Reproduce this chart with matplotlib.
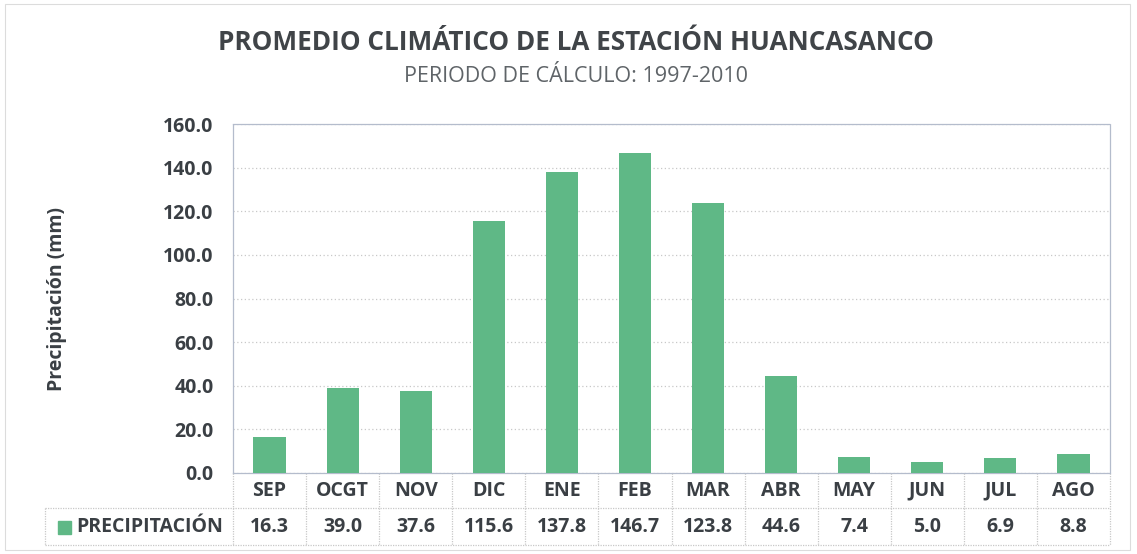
import numpy as np
import matplotlib.pyplot as plt
from matplotlib.patches import Rectangle
from matplotlib.lines import Line2D

months = ['SEP', 'OCGT', 'NOV', 'DIC', 'ENE', 'FEB', 'MAR', 'ABR', 'MAY', 'JUN', 'JUL', 'AGO']
precip = [16.3, 39.0, 37.6, 115.6, 137.8, 146.7, 123.8, 44.6, 7.4, 5.0, 6.9, 8.8]
yticks = [0, 20, 40, 60, 80, 100, 120, 140, 160]
series_name = 'PRECIPITACIÓN'

GREEN = '#5fb886'
DARK = '#3a3f44'
GRID = '#c8c8c8'
plt.rcParams['font.family'] = ['Open Sans', 'DejaVu Sans']

fig = plt.figure(figsize=(11.37, 5.54), dpi=100)
ax = fig.add_axes([233 / 1137, 1 - 473 / 554, (1110 - 233) / 1137, 349 / 554])

x = np.arange(len(months))
ax.bar(x, precip, width=0.44, color=GREEN, zorder=3)
ax.set_xlim(-0.5, len(months) - 0.5)
ax.set_ylim(0, 160)
ax.set_yticks(yticks)
ax.set_yticklabels([f'{v:.1f}' for v in yticks], fontsize=14, fontweight='bold', color=DARK)
ax.tick_params(axis='y', length=0, pad=14)
ax.set_xticks([])
ax.grid(axis='y', color=GRID, linestyle=(0, (1, 2)), linewidth=0.9, zorder=0)
for s in ax.spines.values():
    s.set_color('#b4bccc')
    s.set_linestyle((0, (1, 1)))
    s.set_linewidth(0.9)
ax.set_ylabel('Precipitación (mm)', fontsize=14, fontweight='bold', color=DARK, labelpad=69)

# data table under the axes
tr = ax.get_xaxis_transform()
h1 = -35 / 349
h2 = -72 / 349
lc = '#c8c8c8'
lw = 0.9
ls = (0, (1, 1))
left_ax = (45 - 233) / 877 * len(months) - 0.5
for yy in (h1, h2):
    ax.add_line(Line2D([left_ax, len(months) - 0.5], [yy, yy],
                       transform=tr, color=lc, lw=lw, ls=ls, clip_on=False))
ax.add_line(Line2D([left_ax, left_ax], [h1, h2], transform=tr, color=lc, lw=lw, ls=ls, clip_on=False))
for i in range(len(months) + 1):
    ax.add_line(Line2D([i - 0.5, i - 0.5], [0, h2], transform=tr, color=lc, lw=lw, ls=ls, clip_on=False))

for i, (m, v) in enumerate(zip(months, precip)):
    ax.text(i, h1 / 2, m, transform=tr, ha='center', va='center',
            fontsize=14, fontweight='bold', color=DARK, clip_on=False)
    ax.text(i, (h1 + h2) / 2, f'{v:.1f}', transform=tr, ha='center', va='center',
            fontsize=14, fontweight='bold', color=DARK, clip_on=False)

fig.patches.append(Rectangle((58 / 1137, 1 - 534 / 554), 13 / 1137, 13 / 554,
                             transform=fig.transFigure, color=GREEN))
fig.text(76 / 1137, 1 - 527 / 554, series_name, ha='left', va='center',
         fontsize=14, fontweight='bold', color=DARK)

fig.text(576 / 1137, 1 - 42 / 554, 'PROMEDIO CLIMÁTICO DE LA ESTACIÓN HUANCASANCO',
         ha='center', va='center', fontsize=18.8, fontweight='bold', color='#404448')
fig.text(576 / 1137, 1 - 76 / 554, 'PERIODO DE CÁLCULO: 1997-2010',
         ha='center', va='center', fontsize=15.5, color='#5f6468')

fig.patches.append(Rectangle((5 / 1137, 4 / 554), 1125 / 1137, 546 / 554,
                             transform=fig.transFigure, fill=False, ec='#dcdcdc', lw=0.8))

fig.savefig('out.png', dpi=100, facecolor='white')
